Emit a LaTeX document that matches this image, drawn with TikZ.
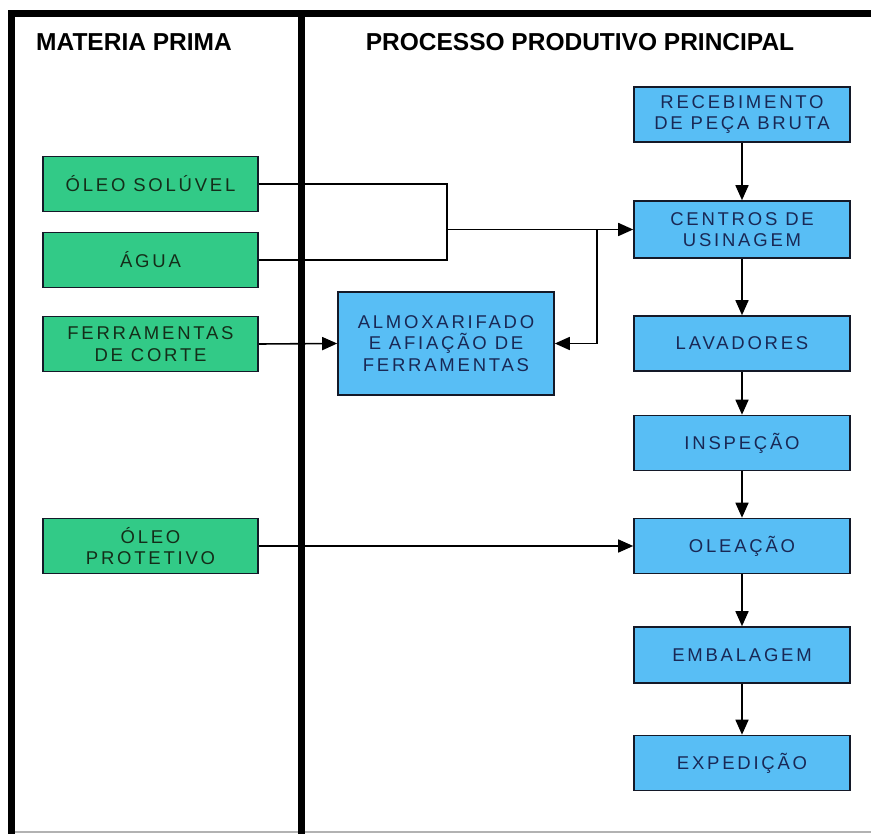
\documentclass[tikz,border=0pt]{standalone}
\usepackage{fontspec}
\setmainfont{Liberation Sans}
\newfontfamily\boxfont[LetterSpace=15]{Liberation Sans}
\usetikzlibrary{arrows.meta}
\definecolor{rawgreen}{RGB}{50,202,135}
\definecolor{procblue}{RGB}{88,190,245}
\definecolor{greentext}{RGB}{20,45,25}
\definecolor{bluetext}{RGB}{25,40,85}
\definecolor{boxedge}{RGB}{20,25,40}
\tikzset{
  box/.style={draw=boxedge, line width=1.6pt, minimum width=216pt, minimum height=55pt,
    inner sep=0pt, align=center, font=\boxfont\fontsize{18.5}{21.5}\selectfont},
  rawbox/.style={box, fill=rawgreen, text=greentext},
  procbox/.style={box, fill=procblue, text=bluetext},
  header/.style={font=\fontsize{24.5}{27}\selectfont\bfseries, inner sep=0pt},
  frameline/.style={line width=7pt, black},
  flow/.style={line width=1.6pt, black},
  flowarrow/.style={flow, -{Triangle[length=15pt,width=13pt]}},
}
\begin{document}
\begin{tikzpicture}[x=1pt,y=-1pt]
  \useasboundingbox (0,0) rectangle (871,834);
  % frame and column divider
  \draw[gray!60, line width=2pt] (8,832) -- (871,832);
  \draw[frameline] (8,14) -- (871,14);
  \draw[frameline] (11.5,11) -- (11.5,834);
  \draw[frameline] (301.5,11) -- (301.5,834);

  % column headers
  \node[header] (hraw) at (134,42) {MATERIA PRIMA};
  \node[header] (hproc) at (580,42) {PROCESSO PRODUTIVO PRINCIPAL};

  % raw materials
  \node[rawbox, minimum width=215pt] (oleo) at (150.5,184) {ÓLEO SOLÚVEL};
  \node[rawbox, minimum width=215pt] (agua) at (150.5,260) {ÁGUA};
  \node[rawbox, minimum width=215pt] (ferr) at (150.5,344) {FERRAMENTAS\\DE CORTE};
  \node[rawbox, minimum width=215pt] (prot) at (150.5,546) {ÓLEO\\PROTETIVO};

  % tool store
  \node[procbox, minimum height=103pt] (almox) at (446,343.5) {ALMOXARIFADO\\E AFIAÇÃO DE\\FERRAMENTAS};

  % main process chain
  \node[procbox] (receb) at (742,114.5) {RECEBIMENTO\\DE PEÇA BRUTA};
  \node[procbox, minimum height=57pt] (centros) at (742,229.5) {CENTROS DE\\USINAGEM};
  \node[procbox] (lavad) at (742,343.5) {LAVADORES};
  \node[procbox] (insp) at (742,443) {INSPEÇÃO};
  \node[procbox] (olea) at (742,546) {OLEAÇÃO};
  \node[procbox, minimum height=56pt] (emb) at (742,655) {EMBALAGEM};
  \node[procbox] (exped) at (742,763) {EXPEDIÇÃO};

  % junctions of the supply lines
  \coordinate (mix) at (447,229.5);
  \coordinate (split) at (597,229.5);

  \draw[flow] (oleo.east) -| (mix);
  \draw[flow] (agua.east) -| (mix);
  \draw[flowarrow] (mix) -- (centros.west);
  \draw[flowarrow] (split) |- (almox.east);
  \draw[flowarrow] (ferr.east) -- (almox.west);
  \draw[flowarrow] (prot.east) -- (olea.west);

  \draw[flowarrow] (receb) -- (centros);
  \draw[flowarrow] (centros) -- (lavad);
  \draw[flowarrow] (lavad) -- (insp);
  \draw[flowarrow] (insp) -- (olea);
  \draw[flowarrow] (olea) -- (emb);
  \draw[flowarrow] (emb) -- (exped);
\end{tikzpicture}
\end{document}
